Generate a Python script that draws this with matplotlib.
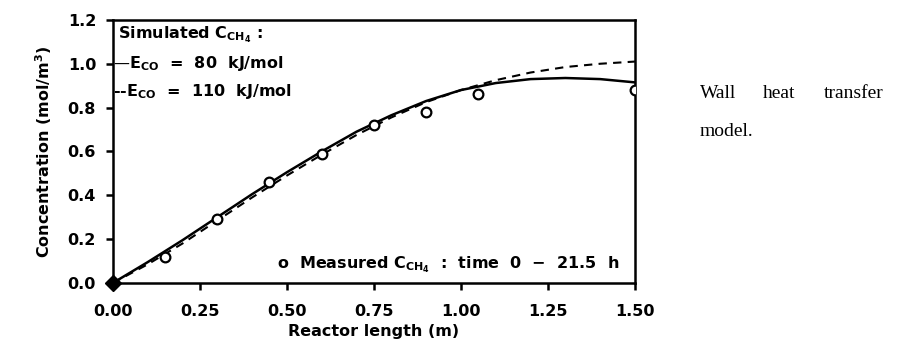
import matplotlib
matplotlib.use("Agg")
import matplotlib.pyplot as plt

# measured methane concentration
x_meas = [0.15, 0.30, 0.45, 0.60, 0.75, 0.90, 1.05, 1.50]
c_meas = [0.12, 0.29, 0.46, 0.59, 0.72, 0.78, 0.86, 0.88]

# simulated curves
x_sim = [0.0, 0.1, 0.2, 0.3, 0.4, 0.5, 0.6, 0.7, 0.8, 0.9, 1.0, 1.1, 1.2, 1.3, 1.4, 1.5]
c_80 = [0.0, 0.095, 0.195, 0.30, 0.405, 0.505, 0.60, 0.69, 0.765, 0.83, 0.88, 0.912, 0.93, 0.935, 0.93, 0.915]
c_110 = [0.0, 0.085, 0.18, 0.285, 0.39, 0.49, 0.585, 0.675, 0.755, 0.825, 0.88, 0.925, 0.96, 0.985, 1.0, 1.01]

xticks = [0.0, 0.25, 0.5, 0.75, 1.0, 1.25, 1.5]
yticks = [0.0, 0.2, 0.4, 0.6, 0.8, 1.0, 1.2]

plt.rcParams['font.family'] = 'DejaVu Sans'
plt.rcParams['font.weight'] = 'bold'
plt.rcParams['mathtext.default'] = 'bf'

fig = plt.figure(figsize=(9.02, 3.49), dpi=100)
ax = fig.add_axes([0.125, 0.189, 0.579, 0.754])

ax.plot(x_sim, c_80, color='black', lw=1.8)
ax.plot(x_sim, c_110, color='black', lw=1.5, ls=(0, (4, 3)))
ax.plot(x_meas, c_meas, 'o', mfc='white', mec='black', mew=1.6, ms=7, zorder=3)
ax.plot([0], [0], 'D', color='black', ms=8, clip_on=False, zorder=4)

ax.set_xlim(0, 1.5)
ax.set_ylim(0, 1.2)
ax.set_xticks(xticks)
ax.set_xticklabels(['0.00', '0.25', '0.50', '0.75', '1.00', '1.25', '1.50'])
ax.set_yticks(yticks)
ax.set_yticklabels(['0.0', '0.2', '0.4', '0.6', '0.8', '1.0', '1.2'])
ax.tick_params(axis='x', direction='out', length=5, width=1.8, labelsize=11.5, pad=10)
ax.tick_params(axis='y', direction='out', length=5, width=1.8, labelsize=11.5, pad=7)
for s in ax.spines.values():
    s.set_linewidth(1.8)

ax.set_xlabel('Reactor length (m)', fontsize=11.5, fontweight='bold', labelpad=4)
ax.set_ylabel('Concentration (mol/m$^3$)', fontsize=11.5, fontweight='bold', labelpad=10)

ax.text(0.01, 0.943, 'Simulated C$_{CH_4}$ :', transform=ax.transAxes,
        fontsize=11.5, fontweight='bold', va='center')
ax.text(0.0, 0.833, '\u2014E$_{CO}$  =  80  kJ/mol', transform=ax.transAxes,
        fontsize=11.5, fontweight='bold', va='center')
ax.text(0.0, 0.726, '--E$_{CO}$  =  110  kJ/mol', transform=ax.transAxes,
        fontsize=11.5, fontweight='bold', va='center')
ax.text(0.971, 0.07, 'o  Measured C$_{CH_4}$  :  time  0  \u2212  21.5  h', transform=ax.transAxes,
        fontsize=11.5, fontweight='bold', va='center', ha='right')

for word, xw in [('Wall', 0.776), ('heat', 0.846), ('transfer', 0.913)]:
    fig.text(xw, 0.733, word, family='Liberation Serif', fontsize=14,
             fontweight='normal', va='center')
fig.text(0.776, 0.622, 'model.', family='Liberation Serif',
         fontsize=14, fontweight='normal', va='center')

fig.savefig('out.png', dpi=100)
